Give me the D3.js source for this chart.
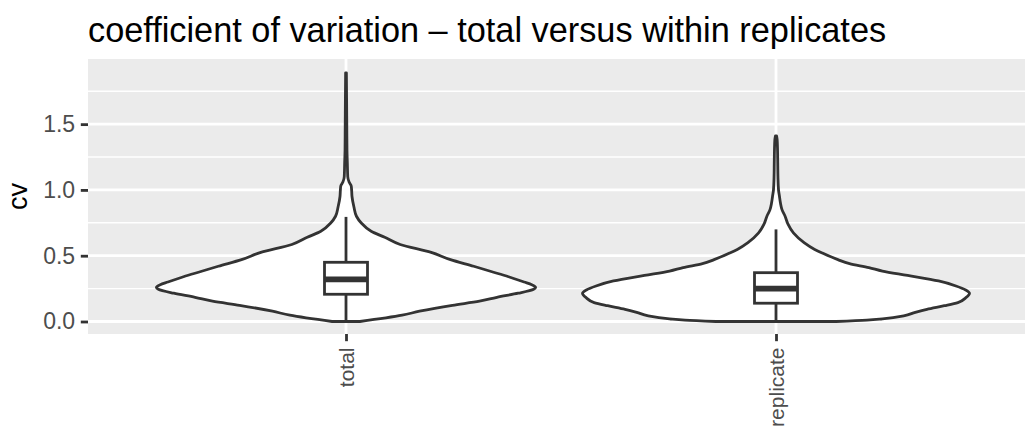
<!DOCTYPE html>
<html><head><meta charset="utf-8">
<script src="https://cdn.jsdelivr.net/npm/d3@7"></script>
<style>body{margin:0;background:#fff}svg{display:block}text{font-family:"Liberation Sans",Arial,sans-serif}</style>
</head><body><svg id="c" width="1025" height="428"></svg>
<script>
const categories = ["total", "replicate"];
const yTicks = [0, 0.5, 1.0, 1.5];
const yTickLabels = ["0.0", "0.5", "1.0", "1.5"];
const yMinor = [0.25, 0.75, 1.25, 1.75];
// violin profiles: cv value and relative density (max = 1)
const totalCv =      [0, 0.048, 0.078, 0.123, 0.154, 0.184, 0.215, 0.245, 0.26, 0.28, 0.30, 0.34, 0.38, 0.42, 0.47, 0.525, 0.585, 0.64, 0.686, 0.75, 0.80, 0.87, 0.95, 1.00, 1.03, 1.06, 1.10, 1.20, 1.30, 1.50, 1.70, 1.89];
const totalDensity = [0.072, 0.29, 0.38, 0.55, 0.69, 0.78, 0.89, 0.97, 0.98, 0.96, 0.92, 0.84, 0.75, 0.66, 0.54, 0.44, 0.28, 0.20, 0.13, 0.078, 0.054, 0.041, 0.031, 0.029, 0.027, 0.016, 0.009, 0.007, 0.005, 0.004, 0.003, 0.002];
const replicateCv =      [0, 0.01, 0.02, 0.043, 0.07, 0.093, 0.12, 0.144, 0.18, 0.215, 0.24, 0.27, 0.308, 0.35, 0.383, 0.41, 0.44, 0.47, 0.52, 0.548, 0.60, 0.674, 0.74, 0.80, 0.85, 0.90, 0.95, 1.00, 1.10, 1.20, 1.30, 1.38, 1.41];
const replicateDensity = [0.31, 0.47, 0.55, 0.66, 0.72, 0.78, 0.87, 0.94, 0.98, 1.0, 0.98, 0.93, 0.84, 0.68, 0.55, 0.48, 0.38, 0.32, 0.24, 0.20, 0.145, 0.09, 0.062, 0.047, 0.031, 0.023, 0.018, 0.013, 0.010, 0.009, 0.008, 0.006, 0.003];
// boxplot stats: [lower whisker, q1, median, q3, upper whisker]
const totalBox = [0, 0.207, 0.32, 0.45, 0.795];
const replicateBox = [0, 0.139, 0.25, 0.371, 0.70];

const violins = [
  {cat: categories[0], cv: totalCv, dens: totalDensity, box: totalBox},
  {cat: categories[1], cv: replicateCv, dens: replicateDensity, box: replicateBox}
];

const svg = d3.select("#c");
const P = {left: 88, right: 1034, top: 59, bottom: 334};
const x = d3.scalePoint().domain(categories).range([P.left, P.right]).padding(0.6);
const y = d3.scaleLinear().domain([-0.095, 1.995]).range([P.bottom, P.top]);
const step = x.step();
const w = d3.scaleLinear().domain([0, 1]).range([0, 0.45 * step]);
const boxHalf = 0.05 * step;
const dark = "#333333";

const defs = svg.append("defs");
defs.append("clipPath").attr("id", "pc").append("rect")
  .attr("x", P.left).attr("y", P.top).attr("width", P.right - P.left).attr("height", P.bottom - P.top);

svg.append("rect").attr("x", P.left).attr("y", P.top).attr("width", P.right - P.left).attr("height", P.bottom - P.top).attr("fill", "#EBEBEB");
const g = svg.append("g").attr("clip-path", "url(#pc)");
g.selectAll("line.minor").data(yMinor).join("line")
  .attr("x1", P.left).attr("x2", P.right).attr("y1", d => y(d)).attr("y2", d => y(d))
  .attr("stroke", "#fff").attr("stroke-width", 1.4);
g.selectAll("line.majy").data(yTicks).join("line")
  .attr("x1", P.left).attr("x2", P.right).attr("y1", d => y(d)).attr("y2", d => y(d))
  .attr("stroke", "#fff").attr("stroke-width", 2.8);
g.selectAll("line.majx").data(categories).join("line")
  .attr("y1", P.top).attr("y2", P.bottom).attr("x1", d => x(d)).attr("x2", d => x(d))
  .attr("stroke", "#fff").attr("stroke-width", 2.8);

violins.forEach(v => {
  const cx = x(v.cat);
  const pts = v.cv.map((c, i) => ({c, d: v.dens[i]}));
  const area = d3.area()
    .y(p => y(p.c))
    .x0(p => cx - w(p.d))
    .x1(p => cx + w(p.d))
    .curve(d3.curveMonotoneY);
  g.append("path").attr("d", area(pts)).attr("fill", "#fff")
    .attr("stroke", dark).attr("stroke-width", 2.8).attr("stroke-linejoin", "round");
  const b = v.box;
  g.append("line").attr("x1", cx).attr("x2", cx).attr("y1", y(b[3])).attr("y2", y(b[4]))
    .attr("stroke", dark).attr("stroke-width", 2.8);
  g.append("line").attr("x1", cx).attr("x2", cx).attr("y1", y(b[1])).attr("y2", y(b[0]))
    .attr("stroke", dark).attr("stroke-width", 2.8);
  g.append("rect").attr("x", cx - boxHalf).attr("width", 2 * boxHalf)
    .attr("y", y(b[3])).attr("height", y(b[1]) - y(b[3]))
    .attr("fill", "#fff").attr("stroke", dark).attr("stroke-width", 2.8);
  g.append("line").attr("x1", cx - boxHalf).attr("x2", cx + boxHalf).attr("y1", y(b[2])).attr("y2", y(b[2]))
    .attr("stroke", dark).attr("stroke-width", 5.6);
});

// axes
const yAxis = d3.axisLeft(y).tickValues(yTicks).tickFormat((d, i) => yTickLabels[i]).tickSize(7.2).tickPadding(5.7);
const ya = svg.append("g").attr("transform", `translate(${P.left},0)`).call(yAxis);
ya.select(".domain").remove();
ya.selectAll(".tick line").attr("stroke", dark).attr("stroke-width", 2.8);
ya.selectAll(".tick text").attr("fill", "#4D4D4D").attr("font-size", 23).attr("font-family", "Liberation Sans, Arial, sans-serif");

const xAxis = d3.axisBottom(x).tickSize(7.2).tickPadding(5.7);
const xa = svg.append("g").attr("transform", `translate(0,${P.bottom})`).call(xAxis);
xa.select(".domain").remove();
xa.selectAll(".tick line").attr("stroke", dark).attr("stroke-width", 2.8);
xa.selectAll(".tick text").attr("fill", "#4D4D4D").attr("font-size", 21).attr("font-family", "Liberation Sans, Arial, sans-serif")
  .attr("transform", "rotate(-90)").attr("text-anchor", "end").attr("x", -13.5).attr("y", 0).attr("dy", "0.35em");

svg.append("text").attr("transform", `translate(27,${(P.top + P.bottom) / 2}) rotate(-90)`)
  .attr("text-anchor", "middle").attr("font-size", 27).attr("fill", "#000").text("cv");
svg.append("text").attr("x", P.left).attr("y", 42).attr("font-size", 34.3).attr("fill", "#000")
  .text("coefficient of variation – total versus within replicates");
</script></body></html>
